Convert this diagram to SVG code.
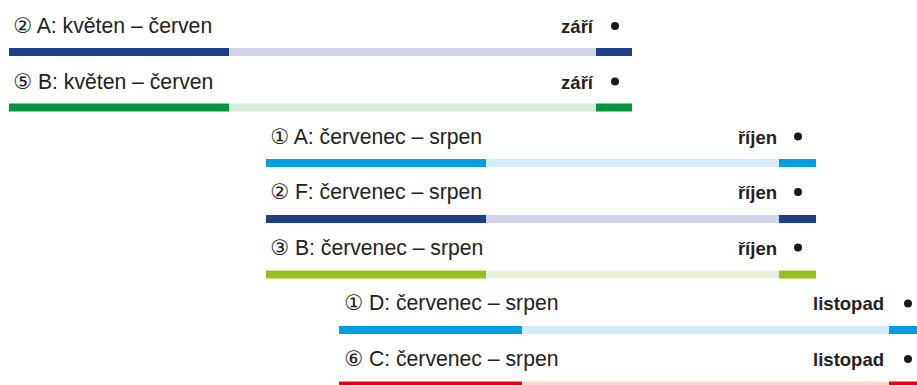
<svg xmlns="http://www.w3.org/2000/svg" width="917" height="385" viewBox="0 0 917 385">
<style>
.lbl{font-family:"Liberation Sans","DejaVu Sans",sans-serif;font-size:21.2px;fill:#222}
.end{font-family:"Liberation Sans","DejaVu Sans",sans-serif;font-size:18.5px;font-weight:bold;fill:#222;text-anchor:end}
.dot{fill:#1a1a1a}
</style>
<rect width="917" height="385" fill="#fff"/>
<g id="row1">
<text class="lbl" x="13" y="33">② A: květen – červen</text>
<text class="end" x="593" y="33">září</text>
<circle class="dot" cx="615" cy="26" r="4"/>
<rect x="9" y="48" width="220" height="8" fill="#1d3f8a"/>
<rect x="229" y="48" width="367" height="8" fill="#d2d4ea"/>
<rect x="596" y="48" width="36" height="8" fill="#1d3f8a"/>
</g>
<g id="row2">
<text class="lbl" x="13" y="88.5">⑤ B: květen – červen</text>
<text class="end" x="593" y="88.5">září</text>
<circle class="dot" cx="615" cy="81.5" r="4"/>
<rect x="9" y="103.5" width="220" height="8" fill="#00963f"/>
<rect x="229" y="103.5" width="367" height="8" fill="#d5ead9"/>
<rect x="596" y="103.5" width="36" height="8" fill="#00963f"/>
</g>
<g id="row3">
<text class="lbl" x="270" y="143.5">① A: červenec – srpen</text>
<text class="end" x="777" y="143.5">říjen</text>
<circle class="dot" cx="798" cy="136.5" r="4"/>
<rect x="266" y="159" width="220" height="8" fill="#009fe3"/>
<rect x="486" y="159" width="293" height="8" fill="#d4ecfa"/>
<rect x="779" y="159" width="37" height="8" fill="#009fe3"/>
</g>
<g id="row4">
<text class="lbl" x="270" y="199">② F: červenec – srpen</text>
<text class="end" x="777" y="199">říjen</text>
<circle class="dot" cx="798" cy="192" r="4"/>
<rect x="266" y="215" width="220" height="8" fill="#1d3f8a"/>
<rect x="486" y="215" width="293" height="8" fill="#d2d4ea"/>
<rect x="779" y="215" width="37" height="8" fill="#1d3f8a"/>
</g>
<g id="row5">
<text class="lbl" x="270" y="254.5">③ B: červenec – srpen</text>
<text class="end" x="777" y="254.5">říjen</text>
<circle class="dot" cx="798" cy="247.5" r="4"/>
<rect x="266" y="270.5" width="220" height="8" fill="#95c11f"/>
<rect x="486" y="270.5" width="293" height="8" fill="#ebf2db"/>
<rect x="779" y="270.5" width="37" height="8" fill="#95c11f"/>
</g>
<g id="row6">
<text class="lbl" x="344" y="310">① D: červenec – srpen</text>
<text class="end" x="884" y="310">listopad</text>
<circle class="dot" cx="908" cy="303.5" r="4"/>
<rect x="339" y="326" width="183" height="8" fill="#009fe3"/>
<rect x="522" y="326" width="367" height="8" fill="#d4ecfa"/>
<rect x="889" y="326" width="28" height="8" fill="#009fe3"/>
</g>
<g id="row7">
<text class="lbl" x="344" y="365.5">⑥ C: červenec – srpen</text>
<text class="end" x="884" y="365.5">listopad</text>
<circle class="dot" cx="908" cy="359" r="4"/>
<rect x="339" y="381.5" width="183" height="8" fill="#e30613"/>
<rect x="522" y="381.5" width="367" height="8" fill="#fcd9cc"/>
<rect x="889" y="381.5" width="28" height="8" fill="#e30613"/>
</g>
<g id="connectors"/>
</svg>
